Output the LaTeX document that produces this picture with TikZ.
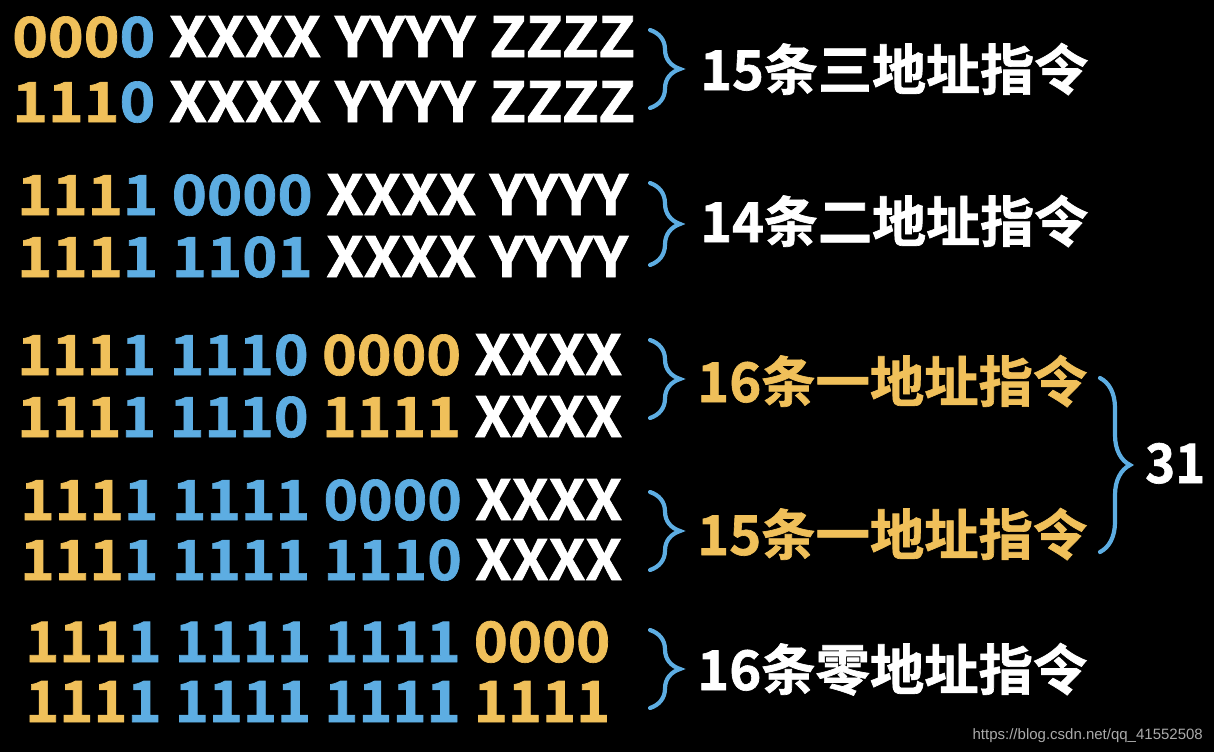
\documentclass[tikz,border=0pt]{standalone}
\usepackage{fontspec}
\usetikzlibrary{decorations.pathreplacing}
\newfontfamily\cjkb{Noto Sans CJK SC Bold}[FakeBold=1.2]
\newfontfamily\wmfont{Liberation Sans}
\definecolor{yel}{RGB}{240,192,90}
\definecolor{blu}{RGB}{93,173,226}
\definecolor{wmc}{RGB}{170,170,170}
\newcommand\yel[1]{\textcolor{yel}{#1}}
\newcommand\blu[1]{\textcolor{blu}{#1}}
\newcommand\fitbox[3]{\resizebox{#1}{#2}{#3}}
\tikzset{
  row/.style={anchor=base west, inner sep=0pt, text=white, font=\fontsize{40}{48}\cjkb},
  lab/.style={anchor=base west, inner sep=0pt, font=\fontsize{40}{48}\cjkb},
  brc/.style={draw=blu, line width=4.2pt, line cap=round, decorate, decoration={brace, amplitude=30pt}},
}
\begin{document}
\begin{tikzpicture}[x=1pt,y=1pt]
\fill[black] (0,0) rectangle (1214,-752);
\useasboundingbox (0,0) rectangle (1214,-752);
% group 1
\node[row] (r11) at (12,-57) {\fitbox{623pt}{41pt}{\yel{000}\blu{0} XXXX YYYY ZZZZ}};
\node[row] (r12) at (12,-122) {\fitbox{623pt}{41pt}{\yel{111}\blu{0} XXXX YYYY ZZZZ}};
% group 2
\node[row] (r21) at (17,-215) {\fitbox{611pt}{41pt}{\yel{111}\blu{1 0000} XXXX YYYY}};
\node[row] (r22) at (17,-277) {\fitbox{611pt}{41pt}{\yel{111}\blu{1 1101} XXXX YYYY}};
% group 3
\node[row] (r31) at (17,-375) {\fitbox{605pt}{41pt}{\yel{111}\blu{1 1110} \yel{0000} XXXX}};
\node[row] (r32) at (17,-437) {\fitbox{605pt}{41pt}{\yel{111}\blu{1 1110} \yel{1111} XXXX}};
% group 4
\node[row] (r41) at (20,-520) {\fitbox{602pt}{41pt}{\yel{111}\blu{1 1111 0000} XXXX}};
\node[row] (r42) at (20,-580) {\fitbox{602pt}{41pt}{\yel{111}\blu{1 1111 1110} XXXX}};
% group 5
\node[row] (r51) at (25,-662) {\fitbox{585pt}{41pt}{\yel{111}\blu{1 1111 1111} \yel{0000}}};
\node[row] (r52) at (25,-722) {\fitbox{585pt}{41pt}{\yel{111}\blu{1 1111 1111} \yel{1111}}};
% labels
\node[lab, text=white] (l1) at (700,-90) {\fitbox{388pt}{47pt}{15条三地址指令}};
\node[lab, text=white] (l2) at (700,-242) {\fitbox{388pt}{47pt}{14条二地址指令}};
\node[lab, text=yel] (l3) at (697,-402) {\fitbox{390pt}{47pt}{16条一地址指令}};
\node[lab, text=yel] (l4) at (697,-555) {\fitbox{390pt}{47pt}{15条一地址指令}};
\node[lab, text=white] (l5) at (697,-690) {\fitbox{390pt}{47pt}{16条零地址指令}};
\node[lab, text=white] (n31) at (1145,-483) {\fitbox{60pt}{40pt}{31}};
% watermark
\node[anchor=base east, inner sep=0pt, text=wmc, font=\fontsize{15}{18}\wmfont] (wm) at (1203,-739) {https://blog.csdn.net/qq\_41552508};
% braces
\coordinate (b1t) at (650,-30);  \coordinate (b1b) at (650,-108);
\coordinate (b2t) at (650,-183); \coordinate (b2b) at (650,-265);
\coordinate (b3t) at (650,-340); \coordinate (b3b) at (650,-418);
\coordinate (b4t) at (650,-492); \coordinate (b4b) at (650,-570);
\coordinate (b5t) at (650,-630); \coordinate (b5b) at (650,-708);
\coordinate (b6t) at (1100,-378); \coordinate (b6b) at (1100,-552);
\draw[brc] (b1t) -- (b1b);
\draw[brc] (b2t) -- (b2b);
\draw[brc] (b3t) -- (b3b);
\draw[brc] (b4t) -- (b4b);
\draw[brc] (b5t) -- (b5b);
\draw[brc] (b6t) -- (b6b);
\end{tikzpicture}
\end{document}
